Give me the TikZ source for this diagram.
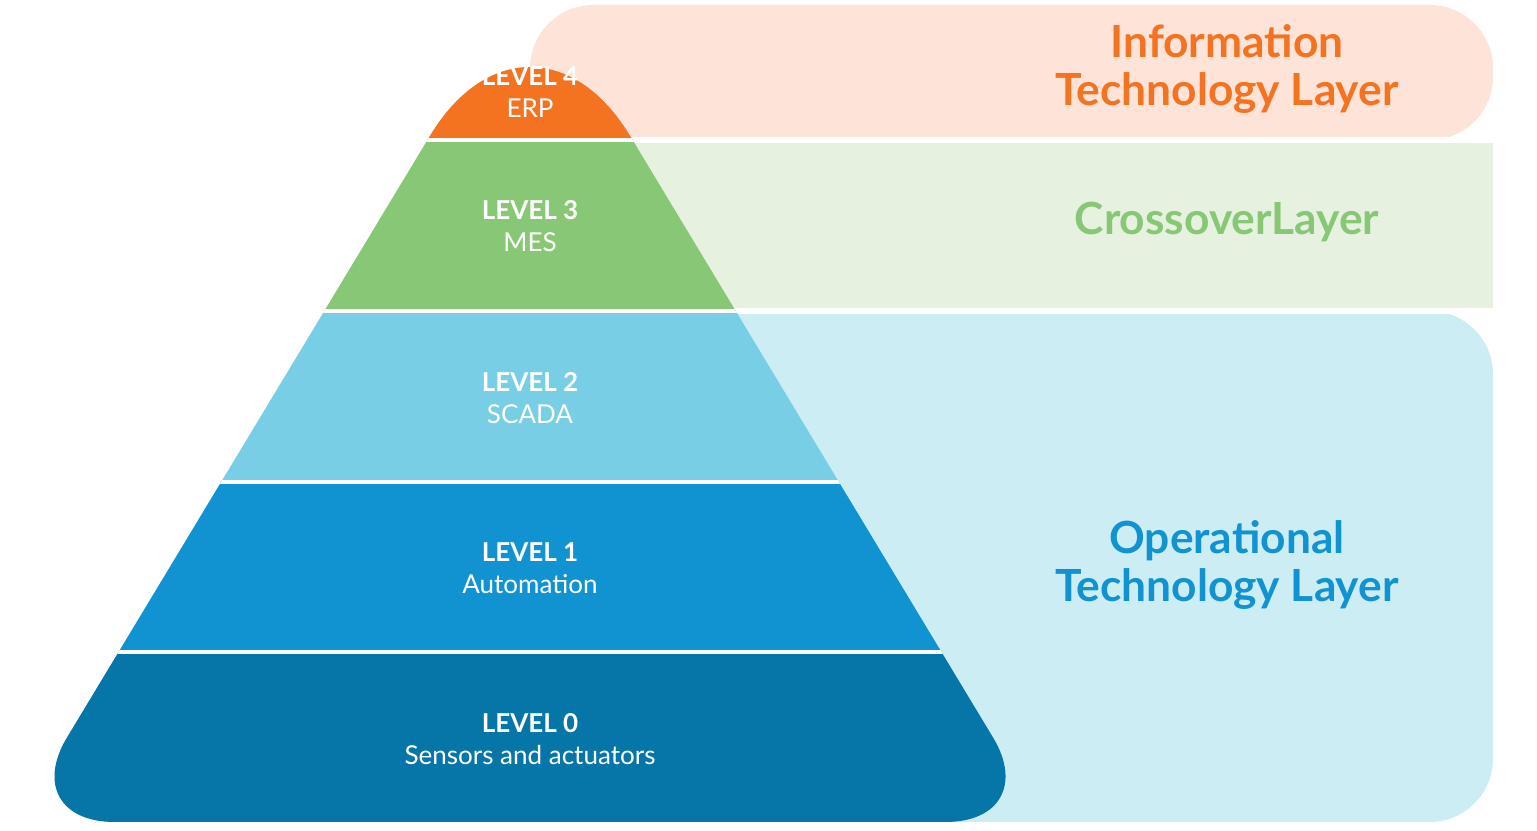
\documentclass[tikz,border=0pt]{standalone}
\usepackage{fontspec}
\setmainfont{Lato}
\definecolor{itorange}{HTML}{F37321}
\definecolor{itback}{HTML}{FDE3D8}
\definecolor{mesgreen}{HTML}{88C776}
\definecolor{crossback}{HTML}{E6F2DF}
\definecolor{scadablue}{HTML}{77CEE5}
\definecolor{autoblue}{HTML}{1193D1}
\definecolor{sensblue}{HTML}{0675A8}
\definecolor{otback}{HTML}{CDEDF5}
\begin{document}
\begin{tikzpicture}[x=0.01cm, y=0.01cm,
    level/.style = {white, align=center, font=\fontsize{7.4}{9}\selectfont},
    layer/.style = {align=center, font=\fontsize{12.6}{13.6}\selectfont\bfseries},
    band/.style = {draw=white, line width=1pt}]
    \useasboundingbox (0,0) rectangle (1537,831);
    % layer bands
    \fill[itback, rounded corners=18] (530,691) -- (530,826) -- (1493,826) -- (1493,691) [sharp corners] -- cycle;
    \fill[crossback] (530,520) rectangle (1493,691);
    \fill[otback, rounded corners=18] (530,520) -- (1493,520) -- (1493,9) -- (530,9) [sharp corners] -- cycle;
    \draw[white, line width=1.5pt] (530,691) -- (1493,691);
    \draw[white, line width=1.5pt] (530,520) -- (1493,520);
    % pyramid
    \begin{scope}
        \clip[rounded corners=28] (16,9) -- (1044,9) [rounded corners=55] -- (530,861) [rounded corners=28] -- cycle;
        \fill[sensblue] (0,0) rectangle (1100,179);
        \fill[autoblue] (0,179) rectangle (1100,349);
        \fill[scadablue] (0,349) rectangle (1100,520);
        \fill[mesgreen] (0,520) rectangle (1100,691);
        \fill[itorange] (0,691) rectangle (1100,870);
        \foreach \y in {179,349,520,691}
            \draw[white, line width=1.2pt] (0,\y) -- (1100,\y);
    \end{scope}
    % texts
    \node[level] (l4) at (530,739) {\textbf{LEVEL 4}\\ERP};
    \node[level] (l3) at (530,605) {\textbf{LEVEL 3}\\MES};
    \node[level] (l2) at (530,433) {\textbf{LEVEL 2}\\SCADA};
    \node[level] (l1) at (530,263) {\textbf{LEVEL 1}\\Automation};
    \node[level] (l0) at (530,92) {\textbf{LEVEL 0}\\Sensors and actuators};
    \node[layer, itorange] (itl) at (1227,762) {Information\\Technology Layer};
    \node[layer, mesgreen] (crl) at (1227,609) {CrossoverLayer};
    \node[layer, autoblue] (otl) at (1227,266) {Operational\\Technology Layer};
\end{tikzpicture}
\end{document}
